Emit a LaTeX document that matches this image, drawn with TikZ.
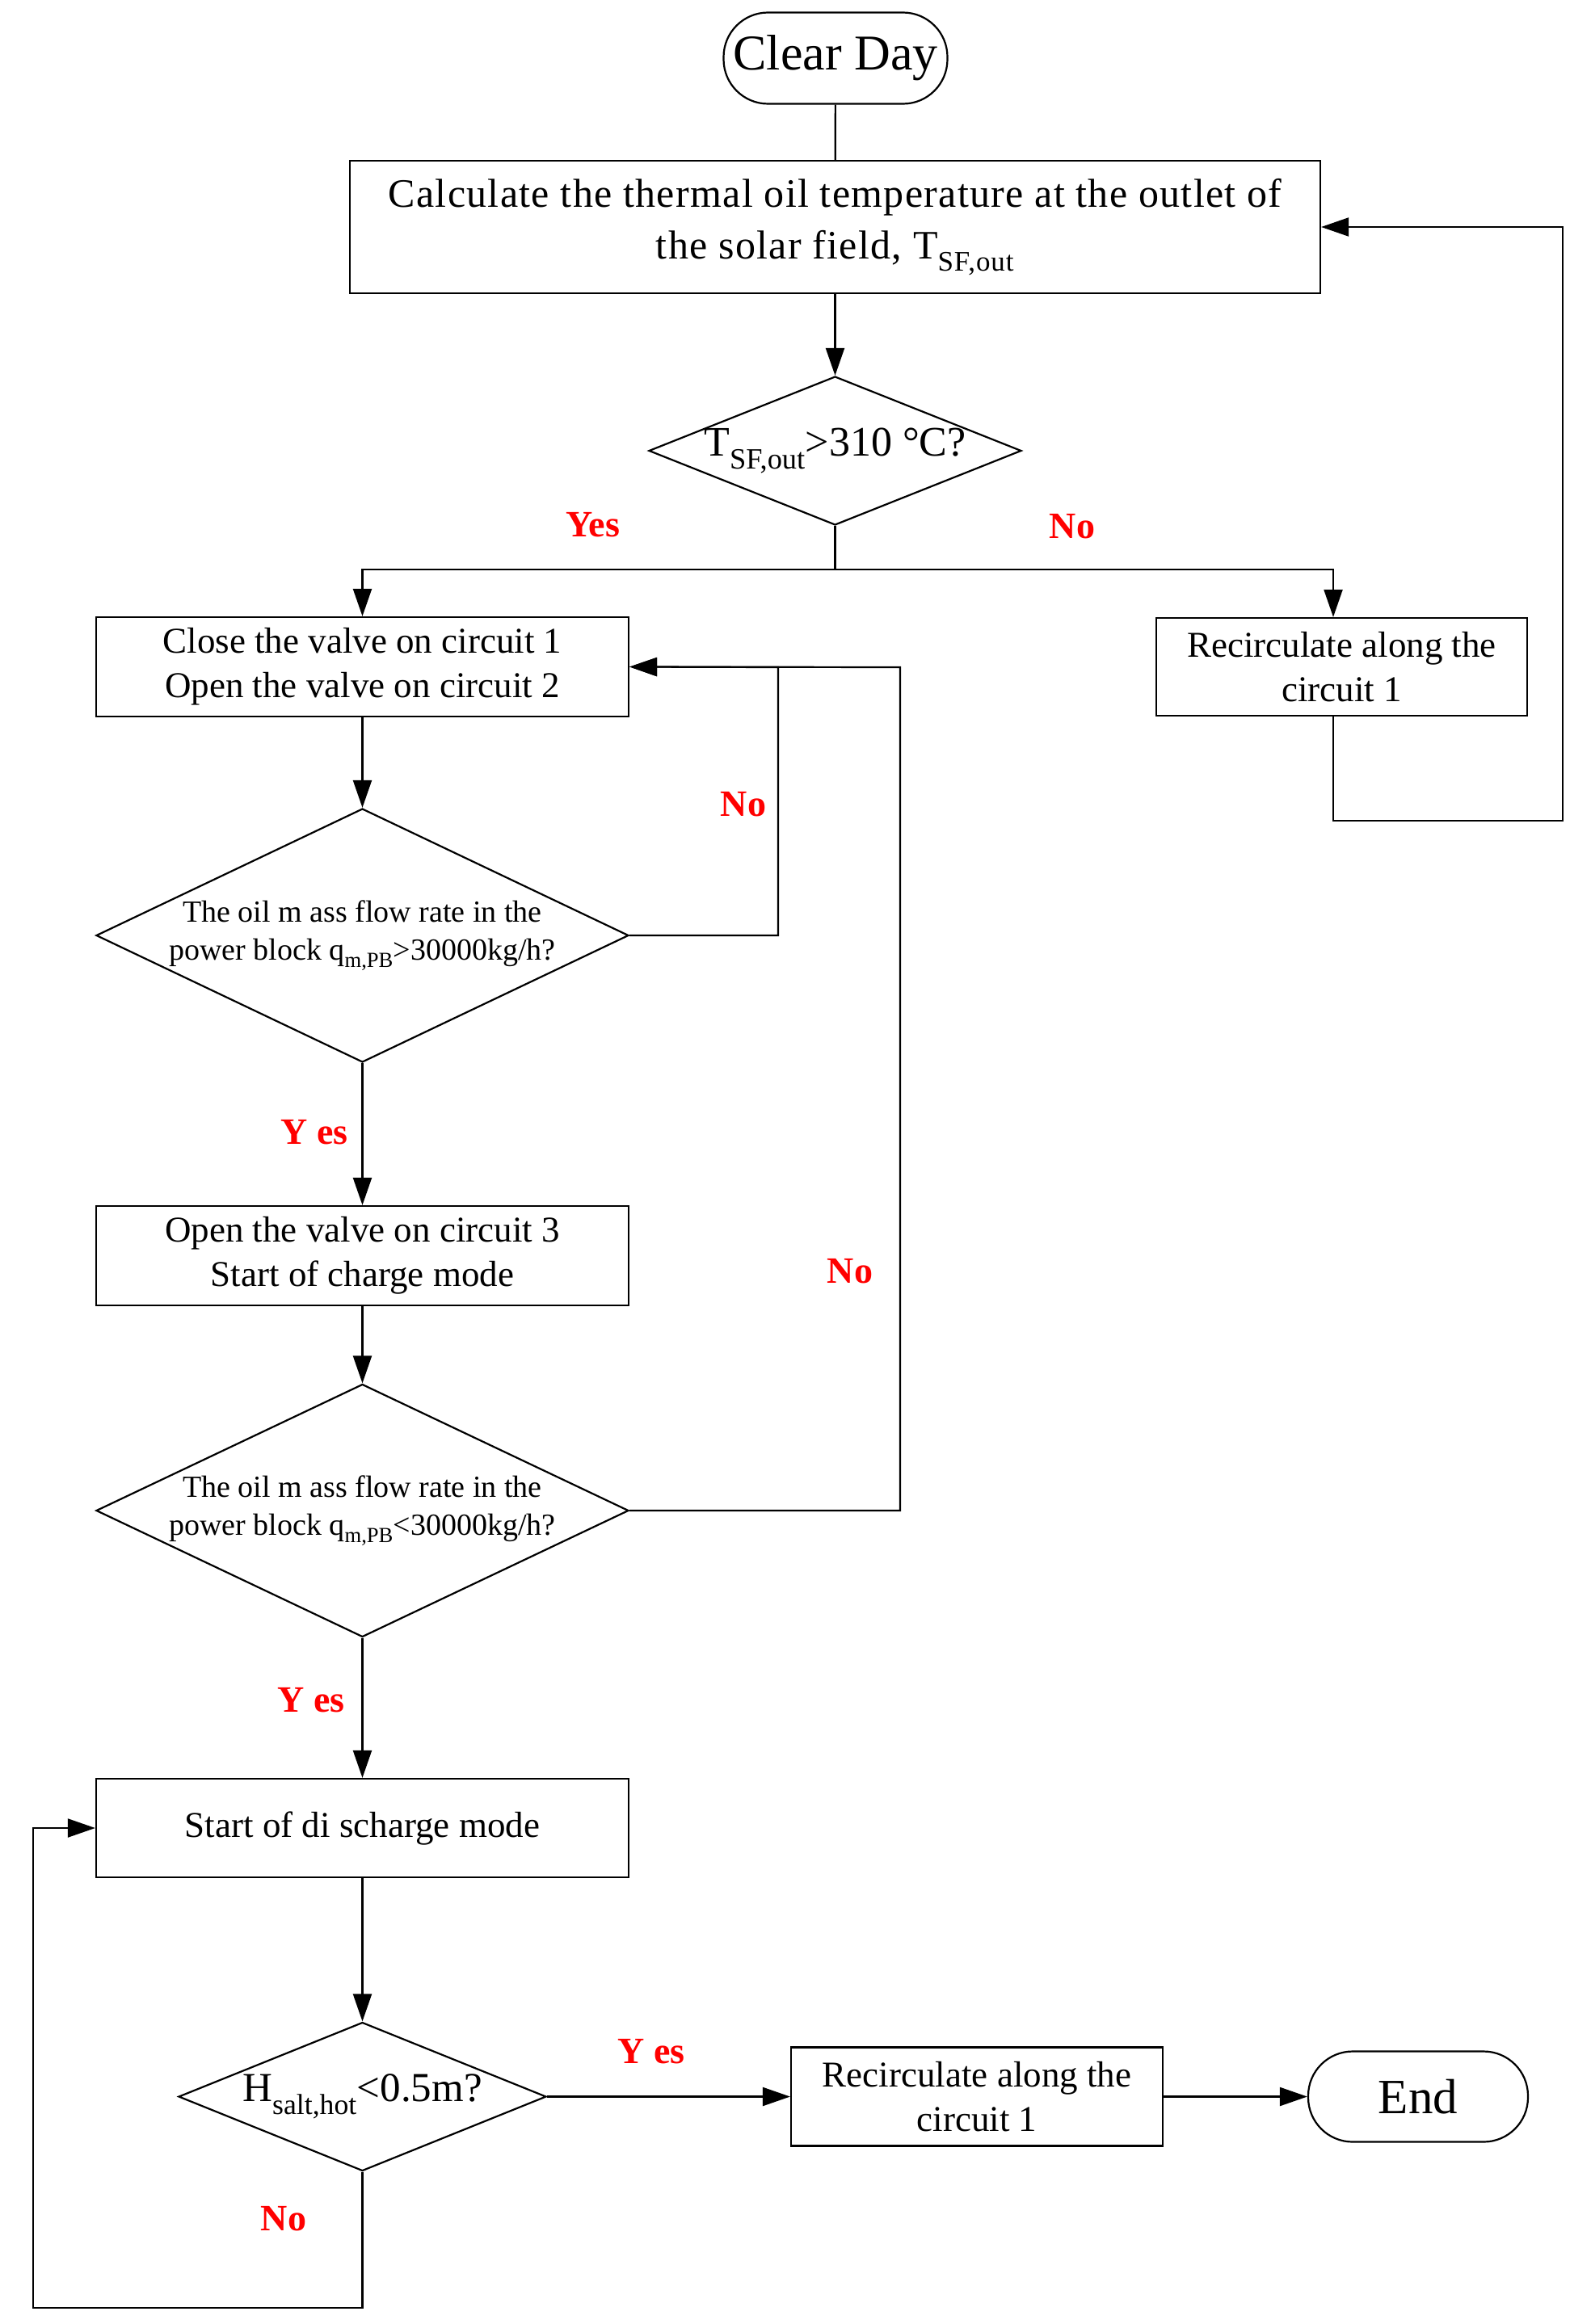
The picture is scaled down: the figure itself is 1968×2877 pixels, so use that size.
\documentclass[tikz,border=0pt]{standalone}
\usepackage{fontspec}
\setmainfont{Liberation Serif}
\usetikzlibrary{shapes.geometric,arrows.meta}
\begin{document}
\begin{tikzpicture}[x=1pt,y=-1pt,
  proc/.style={draw,line width=2.2pt,rectangle,align=center,inner sep=0pt},
  term/.style={draw,line width=2.2pt,rectangle,rounded corners=55pt,inner sep=0pt},
  dec/.style={draw,line width=2.2pt,diamond,inner sep=0pt},
  lab/.style={text=red,font=\bfseries\fontsize{46}{50}\selectfont},
  conn/.style={line width=2.2pt},
  arr/.style={line width=2.2pt,-{Triangle[length=34pt,width=23pt]}}]
\path[fill=white,use as bounding box] (0,0) rectangle (1968,2877);

% nodes
\node[term,minimum width=277pt,minimum height=113pt,font=\fontsize{62}{70}\selectfont] (clear) at (1034,72) {Clear Day};
\node[proc,minimum width=1201pt,minimum height=164pt,font=\fontsize{50}{64}\selectfont\addfontfeature{LetterSpace=2.6}] (calc) at (1033.5,281)
  {Calculate the thermal oil temperature at the outlet of\\the solar field, T\textsubscript{SF,out}};
\node[dec,minimum width=461pt,minimum height=184pt,
  label={[font=\fontsize{52}{60}\selectfont]center:T\textsubscript{SF,out}>310 °C?}] (d1) at (1033.5,558) {};
\node[proc,minimum width=659pt,minimum height=123pt,font=\fontsize{45}{55}\selectfont] (close) at (448.5,825.5)
  {Close the valve on circuit 1\\Open the valve on circuit 2};
\node[proc,minimum width=459pt,minimum height=121pt,font=\fontsize{45}{55}\selectfont] (rec1) at (1660.5,825.5)
  {Recirculate along the\\circuit 1};
\node[dec,minimum width=659pt,minimum height=314pt,
  label={[align=center,font=\fontsize{38}{47}\selectfont]center:The oil m ass flow rate in the\\power block q\textsubscript{m,PB}>30000kg/h?}] (d2) at (448.5,1158) {};
\node[proc,minimum width=659pt,minimum height=123pt,font=\fontsize{45}{55}\selectfont] (open3) at (448.5,1554.5)
  {Open the valve on circuit 3\\Start of charge mode};
\node[dec,minimum width=659pt,minimum height=313pt,
  label={[align=center,font=\fontsize{38}{47}\selectfont]center:The oil m ass flow rate in the\\power block q\textsubscript{m,PB}<30000kg/h?}] (d3) at (448.5,1870) {};
\node[proc,minimum width=659pt,minimum height=122pt,font=\fontsize{45}{55}\selectfont] (dis) at (448.5,2263)
  {Start of di scharge mode};
\node[dec,minimum width=455pt,minimum height=184pt,
  label={[font=\fontsize{51}{60}\selectfont]center:H\textsubscript{salt,hot}<0.5m?}] (d4) at (448.5,2595.5) {};
\node[proc,minimum width=460pt,minimum height=122pt,font=\fontsize{45}{55}\selectfont] (rec2) at (1209,2595.5)
  {Recirculate along the\\circuit 1};
\node[term,minimum width=272pt,minimum height=112pt,font=\fontsize{61}{70}\selectfont] (end) at (1755,2595.5) {End};

% branch coordinates
\coordinate (sL) at (448.5,705);
\coordinate (sR) at (1650,705);
\coordinate (rB) at (1934,1016);
\coordinate (c2) at (963,826);
\coordinate (c3) at (1114,826);
\coordinate (lb) at (41,2857);

% connectors
\draw[conn] (clear) -- (calc);
\draw[arr] (calc) -- (d1);
\draw[arr] (d1.south) |- (sL) -- (close.north);
\draw[arr] (d1.south) |- (sR) -- (sR |- rec1.north);
\draw[arr] (sR |- rec1.south) |- (rB) |- (calc.east);
\draw[arr] (close) -- (d2);
\draw[arr] (d2.east) -| (c2) -- (close.east);
\draw[arr] (d3.east) -| (c3) -- (close.east);
\draw[arr] (d2) -- (open3);
\draw[arr] (open3) -- (d3);
\draw[arr] (d3) -- (dis);
\draw[arr] (dis) -- (d4);
\draw[arr] (d4) -- (rec2);
\draw[arr] (rec2) -- (end);
\draw[arr] (d4.south) |- (lb) |- (dis.west);

% labels
\node[lab] (y1) at (734,650) {Yes};
\node[lab] (n1) at (1327,652) {No};
\node[lab] (n2) at (920,996) {No};
\node[lab] (y2) at (389,1402) {Y es};
\node[lab] (n3) at (1052,1574) {No};
\node[lab] (y3) at (385,2105) {Y es};
\node[lab] (y4) at (806,2540) {Y es};
\node[lab] (n4) at (351,2747) {No};
\end{tikzpicture}
\end{document}
